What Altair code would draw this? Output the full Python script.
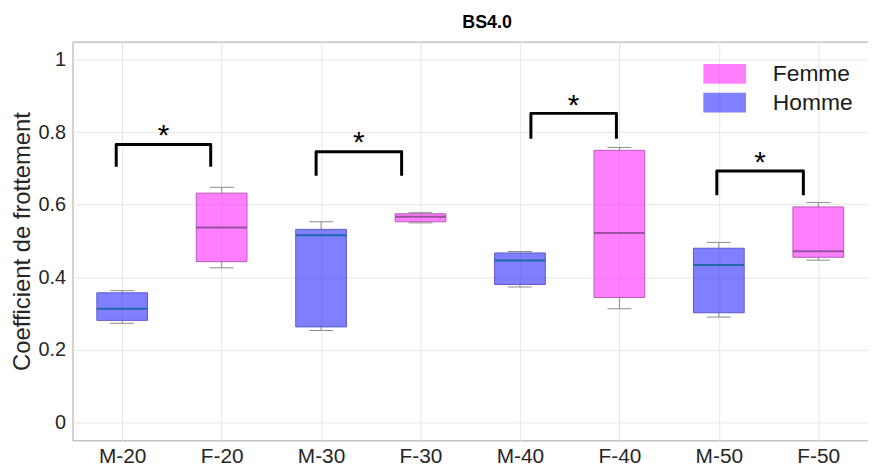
import altair as alt
import pandas as pd

cats = ["M-20", "F-20", "M-30", "F-30", "M-40", "F-40", "M-50", "F-50"]
sexe = ["Homme", "Femme", "Homme", "Femme", "Homme", "Femme", "Homme", "Femme"]
wlo = [0.273, 0.426, 0.253, 0.550, 0.373, 0.313, 0.290, 0.447]
q1 = [0.281, 0.443, 0.263, 0.553, 0.380, 0.344, 0.302, 0.455]
med = [0.313, 0.537, 0.516, 0.567, 0.446, 0.522, 0.434, 0.472]
q3 = [0.357, 0.632, 0.532, 0.575, 0.467, 0.750, 0.480, 0.594]
whi = [0.363, 0.648, 0.553, 0.578, 0.471, 0.758, 0.496, 0.606]

# significance brackets
br_x1 = [0.94, 2.95, 5.11, 6.98]
br_x2 = [1.89, 3.81, 5.97, 7.85]
br_top = [0.766, 0.746, 0.852, 0.693]
br_bot = [0.705, 0.680, 0.782, 0.626]
star_y = [0.808, 0.788, 0.892, 0.733]

pos = list(range(1, len(cats) + 1))
BOX_HALF = 0.255
CAP_HALF = 0.12

df = pd.DataFrame(dict(pos=pos, cat=cats, sexe=sexe, wlo=wlo, q1=q1, med=med, q3=q3, whi=whi))
df["bx1"] = df["pos"] - BOX_HALF
df["bx2"] = df["pos"] + BOX_HALF
df["cx1"] = df["pos"] - CAP_HALF
df["cx2"] = df["pos"] + CAP_HALF

rows = []
for i in range(len(br_x1)):
    pts = [(br_x1[i], br_bot[i]), (br_x1[i], br_top[i]), (br_x2[i], br_top[i]), (br_x2[i], br_bot[i])]
    for o, (x, y) in enumerate(pts):
        rows.append(dict(pair=i, o=o, x=x, y=y))
br_df = pd.DataFrame(rows)
star_df = pd.DataFrame(dict(x=[(a + b) / 2 for a, b in zip(br_x1, br_x2)], y=star_y))

label_expr = "[" + ",".join("'%s'" % c for c in cats) + "][datum.value-1]"

xscale = alt.Scale(domain=[0.5, 8.5], nice=False, zero=False)
yscale = alt.Scale(domain=[-0.05, 1.05], nice=False, zero=False)

xaxis = alt.Axis(values=pos, labelExpr=label_expr, title=None, grid=True, tickSize=0,
                 labelPadding=5, domain=False, labelFontSize=21)
yaxis = alt.Axis(values=[0, 0.2, 0.4, 0.6, 0.8, 1.0], format="~g", title="Coefficient de frottement",
                 grid=True, tickSize=0, labelPadding=7, titlePadding=4, domain=False,
                 labelFontSize=20, titleFontSize=24)

base = alt.Chart(df)

X = lambda f: alt.X(f, type="quantitative", scale=xscale, axis=xaxis)
Y = lambda f: alt.Y(f, type="quantitative", scale=yscale, axis=yaxis)

stroke_cond = alt.condition(alt.datum.sexe == "Femme", alt.value("#b85ab8"), alt.value("#5a5acc"))
med_cond = alt.condition(alt.datum.sexe == "Femme", alt.value("#9a4f9f"), alt.value("#1f6aa8"))

wh_low = base.mark_rule(color="#8c8c8c", strokeWidth=1).encode(x=X("pos"), y=Y("wlo"), y2="q1")
wh_up = base.mark_rule(color="#8c8c8c", strokeWidth=1).encode(x=X("pos"), y=Y("q3"), y2="whi")
cap_low = base.mark_rule(color="#8c8c8c", strokeWidth=1).encode(x=X("cx1"), x2="cx2", y=Y("wlo"))
cap_up = base.mark_rule(color="#8c8c8c", strokeWidth=1).encode(x=X("cx1"), x2="cx2", y=Y("whi"))

boxes = base.mark_rect(fillOpacity=0.5, strokeWidth=1).encode(
    x=X("bx1"), x2="bx2", y=Y("q1"), y2="q3",
    fill=alt.Fill("sexe:N", scale=alt.Scale(domain=["Femme", "Homme"], range=["#ff00ff", "#0000ff"]),
                  legend=alt.Legend(title=None, orient="none", legendX=646, legendY=21,
                                    symbolType="M-2.15,-1H2.15V1H-2.15Z", symbolSize=400,
                                    symbolOpacity=0.5, symbolStrokeWidth=0,
                                    labelFont="Liberation Sans", labelFontSize=23, labelColor="#1a1a1a",
                                    labelOffset=37, rowPadding=5)),
    stroke=stroke_cond,
)
medians = base.mark_rule(strokeWidth=2).encode(x=X("bx1"), x2="bx2", y=Y("med"), color=med_cond)

brackets = alt.Chart(br_df).mark_line(color="black", strokeWidth=3, strokeJoin="round").encode(
    x=X("x"), y=Y("y"), detail="pair:N", order="o:O")
stars = alt.Chart(star_df).mark_text(text="*", fontSize=30, font="Liberation Sans", baseline="middle",
                                     color="black", dy=7).encode(x=X("x"), y=Y("y"))

chart = alt.layer(wh_low, wh_up, cap_low, cap_up, boxes, medians, brackets, stars).properties(
    width=802, height=402,
    title=alt.TitleParams("BS4.0", font="Liberation Sans", fontSize=18, fontWeight="bold",
                          color="black", offset=10, dx=17),
    autosize=alt.AutoSizeParams(type="none"),
    padding={"left": 65, "top": 32, "right": 0, "bottom": 28},
).configure_axis(
    labelFont="Liberation Sans", labelColor="#262626",
    titleFont="Liberation Sans", titleColor="#262626", titleFontWeight="normal",
    gridColor="#e6e6e6", gridWidth=1,
).configure_view(stroke="#a6a6a6", strokeWidth=1)

chart.save("out.html", embed_options={"renderer": "svg", "actions": False})
